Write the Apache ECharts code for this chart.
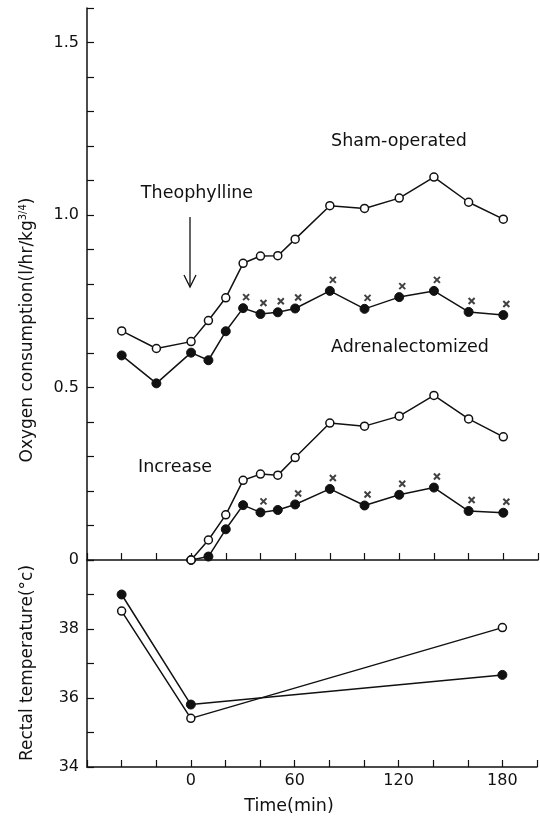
<!DOCTYPE html>
<html>
<head>
<meta charset="UTF-8">
<title>Oxygen consumption</title>
<script src="https://cdn.jsdelivr.net/npm/echarts@6/dist/echarts.min.js"></script>
</head>
<body style="margin:0;background:#fff">
<div id="main" style="width:540px;height:822px;"></div>
<script type="text/javascript">
// time points (min)
var times = [-40, -20, 0, 10, 20, 30, 40, 50, 60, 80, 100, 120, 140, 160, 180];
var shamO2 = [0.664, 0.613, 0.633, 0.694, 0.760, 0.860, 0.881, 0.882, 0.930, 1.027, 1.019, 1.049, 1.110, 1.037, 0.988];
var adxO2 = [0.593, 0.512, 0.601, 0.579, 0.663, 0.730, 0.713, 0.718, 0.729, 0.780, 0.728, 0.762, 0.780, 0.719, 0.710];

var incTimes = [0, 10, 20, 30, 40, 50, 60, 80, 100, 120, 140, 160, 180];
var shamInc = [0, 0.058, 0.131, 0.231, 0.249, 0.246, 0.297, 0.397, 0.388, 0.417, 0.477, 0.409, 0.357];
var adxInc = [0, 0.010, 0.089, 0.159, 0.138, 0.145, 0.161, 0.206, 0.158, 0.189, 0.210, 0.142, 0.137];

// significant differences (marked x)
var sigO2 = [30, 40, 50, 60, 80, 100, 120, 140, 160, 180];
var sigInc = [40, 60, 80, 100, 120, 140, 160, 180];

var tempTimes = [-40, 0, 180];
var shamTemp = [38.52, 35.41, 38.04];
var adxTemp = [39.0, 35.81, 36.67];

var xTicks = [0, 60, 120, 180];

function pairs(xs, ys) {
	return xs.map(function (x, i) { return [x, ys[i]]; });
}
function sigPoints(sig, xs, ys) {
	return sig.map(function (t) { return [t, ys[xs.indexOf(t)]]; });
}

var ink = '#111';
var font = 'DejaVu Sans';
var openStyle = { color: '#fff', borderColor: ink, borderWidth: 1.5 };
var fillStyle = { color: ink, borderColor: ink, borderWidth: 1 };
var lineStyle = { color: ink, width: 1.5 };
var cross = 'path://M0,0L10,10M10,0L0,10';

function lineSeries(data, open, xi) {
	return {
		type: 'line',
		xAxisIndex: xi, yAxisIndex: xi,
		data: data,
		symbol: 'circle',
		symbolSize: open ? 8 : 9,
		itemStyle: open ? openStyle : fillStyle,
		lineStyle: lineStyle,
		z: open ? 3 : 2,
		animation: false
	};
}
function sigSeries(data) {
	return {
		type: 'scatter',
		data: data,
		symbol: cross,
		symbolSize: 6,
		symbolOffset: [3, -11],
		itemStyle: { color: ink, borderColor: ink, borderWidth: 2 },
		animation: false
	};
}

var axisLine = { onZero: false, lineStyle: { color: ink, width: 1.5 } };
var axisTick = { inside: true, length: 7, lineStyle: { color: ink, width: 1.2 } };
var labelStyle = { color: ink, fontFamily: font, fontSize: 16 };
var textFont = '17.5px ' + font;

var myChart = echarts.init(document.getElementById('main'));
myChart.setOption({
	backgroundColor: '#fff',
	grid: [
		{ left: 87, top: 8, width: 451, height: 552 },
		{ left: 87, top: 560, width: 451, height: 207 }
	],
	xAxis: [
		{ gridIndex: 0, type: 'value', min: -60, max: 200, interval: 20,
		  axisLine: axisLine, axisTick: axisTick, axisLabel: { show: false }, splitLine: { show: false } },
		{ gridIndex: 1, type: 'value', min: -60, max: 200, interval: 20,
		  axisLine: axisLine, axisTick: axisTick, splitLine: { show: false },
		  axisLabel: Object.assign({ margin: 6, formatter: function (v) {
			  return xTicks.indexOf(v) >= 0 ? String(v) : '';
		  } }, labelStyle) }
	],
	yAxis: [
		{ gridIndex: 0, type: 'value', min: 0, max: 1.6, interval: 0.1,
		  axisLine: axisLine, axisTick: axisTick, splitLine: { show: false },
		  axisLabel: Object.assign({ margin: 8, formatter: function (v) {
			  var k = Math.round(v * 10);
			  if (k % 5 !== 0 || k > 15) return '';
			  return k === 0 ? '0' : (k / 10).toFixed(1);
		  } }, labelStyle) },
		{ gridIndex: 1, type: 'value', min: 34, max: 40, interval: 1,
		  axisLine: axisLine, axisTick: axisTick, splitLine: { show: false },
		  axisLabel: Object.assign({ margin: 8, formatter: function (v) {
			  return (v % 2 === 0 && v < 40) ? String(v) : '';
		  } }, labelStyle) }
	],
	series: [
		lineSeries(pairs(times, adxO2), false, 0),
		lineSeries(pairs(times, shamO2), true, 0),
		lineSeries(pairs(incTimes, adxInc), false, 0),
		lineSeries(pairs(incTimes, shamInc), true, 0),
		sigSeries(sigPoints(sigO2, times, adxO2)),
		sigSeries(sigPoints(sigInc, incTimes, adxInc)),
		lineSeries(pairs(tempTimes, adxTemp), false, 1),
		lineSeries(pairs(tempTimes, shamTemp), true, 1)
	],
	graphic: [
		{ type: 'text', x: 399, y: 141, style: { text: 'Sham-operated', fill: ink, font: textFont, align: 'center', verticalAlign: 'middle' } },
		{ type: 'text', x: 197, y: 193, style: { text: 'Theophylline', fill: ink, font: textFont, align: 'center', verticalAlign: 'middle' } },
		{ type: 'polyline', shape: { points: [[190, 217], [190, 287]] }, style: { stroke: ink, lineWidth: 1.3, fill: null } },
		{ type: 'polyline', shape: { points: [[184, 275], [190, 287], [196, 275]] }, style: { stroke: ink, lineWidth: 1.3, fill: null } },
		{ type: 'text', x: 410, y: 347, style: { text: 'Adrenalectomized', fill: ink, font: textFont, align: 'center', verticalAlign: 'middle' } },
		{ type: 'text', x: 175, y: 467, style: { text: 'Increase', fill: ink, font: textFont, align: 'center', verticalAlign: 'middle' } },
		{ type: 'text', x: 289, y: 806, style: { text: 'Time(min)', fill: ink, font: textFont, align: 'center', verticalAlign: 'middle' } },
		{ type: 'text', x: 28, y: 663, rotation: Math.PI / 2,
		  style: { text: 'Rectal temperature(°c)', fill: ink, font: '17px ' + font, align: 'center', verticalAlign: 'middle' } },
		{ type: 'text', x: 28, y: 330, rotation: Math.PI / 2,
		  style: { text: 'Oxygen consumption(l/hr/kg{s|3/4})', fill: ink, font: '17px ' + font, align: 'center', verticalAlign: 'middle',
		           rich: { s: { fontSize: 10, fontFamily: font, fill: ink, padding: [0, 0, 9, 0] } } } }
	]
});
</script>
</body>
</html>
